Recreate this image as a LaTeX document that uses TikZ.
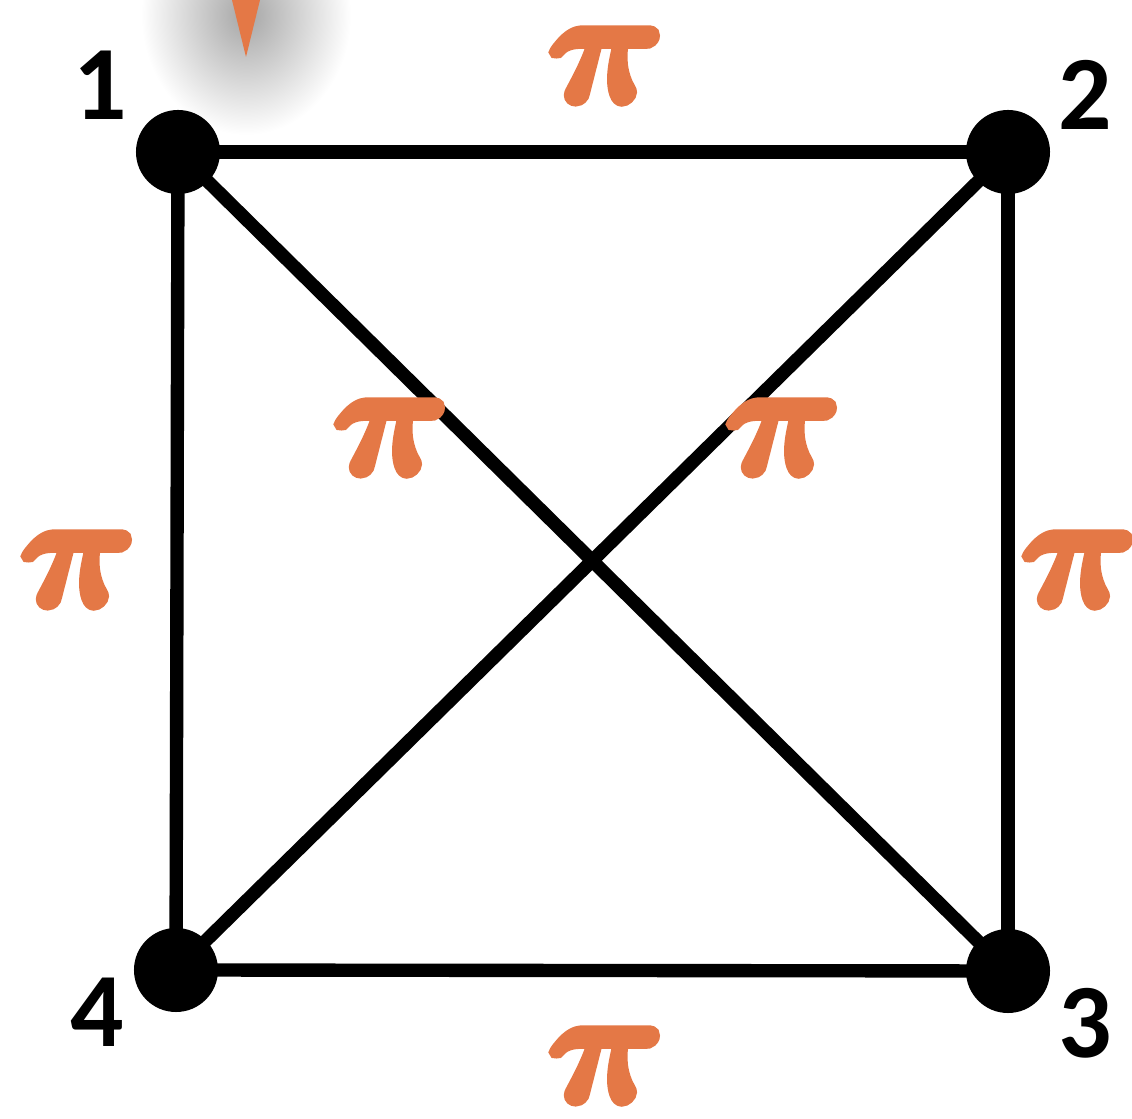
\documentclass[tikz,border=0pt]{standalone}
\usepackage{fontspec}
\newfontfamily\digitfont{Carlito}
\newfontfamily\pifont{latinmodern-math.otf}[FakeBold=5]
\definecolor{piorange}{RGB}{228,120,70}
\tikzset{
  vertex/.style={circle, fill=black, minimum size=0.84cm, inner sep=0pt},
  edge/.style={line width=3.8pt, black},
  pilabel/.style={text=piorange, font=\pifont\fontsize{46}{52}\selectfont, inner sep=0pt},
  numlabel/.style={font=\digitfont\bfseries\fontsize{30}{36}\selectfont, inner sep=0pt},
}
\begin{document}
\begin{tikzpicture}[x=0.01cm, y=-0.01cm]
  \useasboundingbox (0,0) rectangle (1132,1119);
  % shadow and arrow tip at top
  \shade[inner color=black!35, outer color=white] (246,15) ellipse (105 and 120);
  \fill[piorange] (232,0) -- (260,0) -- (246,57) -- cycle;
  % vertices
  \node[vertex] (v1) at (178,152) {};
  \node[vertex] (v2) at (1008,152) {};
  \node[vertex] (v3) at (1008,971) {};
  \node[vertex] (v4) at (176,970) {};
  % edges
  \draw[edge] (v1.center) -- (v2.center);
  \draw[edge] (v2.center) -- (v3.center);
  \draw[edge] (v3.center) -- (v4.center);
  \draw[edge] (v4.center) -- (v1.center);
  \draw[edge] (v1.center) -- (v3.center);
  \draw[edge] (v2.center) -- (v4.center);
  % vertex numbers
  \node[numlabel] (n1) at (100,85) {1};
  \node[numlabel] (n2) at (1085,95) {2};
  \node[numlabel] (n3) at (1085,1023) {3};
  \node[numlabel] (n4) at (97,1012) {4};
  % edge weights
  \node[pilabel] (p12) at (603,66) {𝝅};
  \node[pilabel] (p13) at (388,438) {𝝅};
  \node[pilabel] (p24) at (780,438) {𝝅};
  \node[pilabel] (p14) at (75,570) {𝝅};
  \node[pilabel] (p23) at (1076,570) {𝝅};
  \node[pilabel] (p34) at (603,1066) {𝝅};
\end{tikzpicture}
\end{document}
